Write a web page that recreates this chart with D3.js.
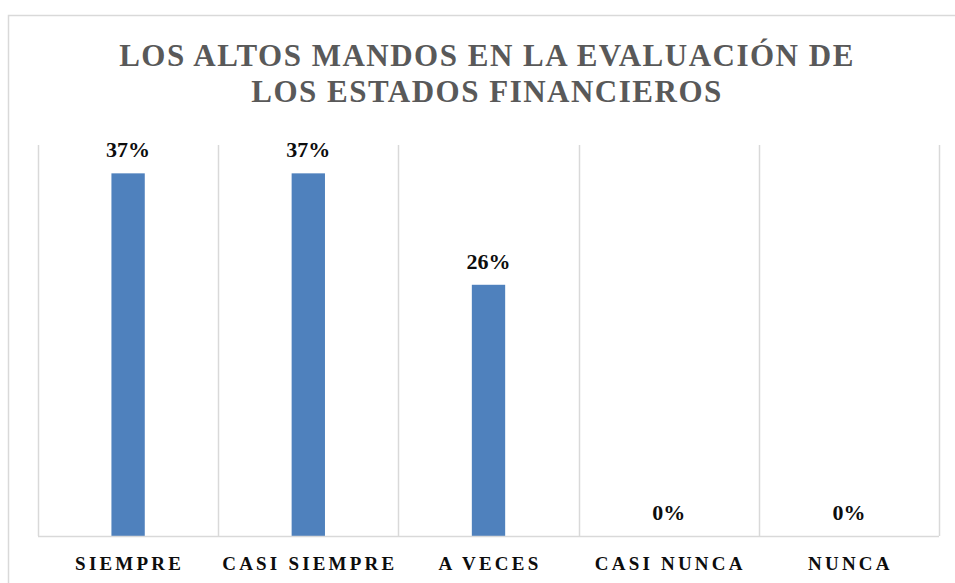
<!DOCTYPE html>
<html>
<head>
<meta charset="utf-8">
<script src="https://cdn.jsdelivr.net/npm/d3@7"></script>
<style>
  body { margin: 0; background: #ffffff; }
  svg text { font-family: "Liberation Serif", "DejaVu Serif", serif; font-weight: bold; }
</style>
</head>
<body>
<div id="my_dataviz"></div>
<script>

// data
var categories = ["SIEMPRE", "CASI SIEMPRE", "A VECES", "CASI NUNCA", "NUNCA"]
var values = [0.371, 0.371, 0.257, 0, 0]
var titleLines = ["LOS ALTOS MANDOS EN LA EVALUACIÓN DE", "LOS ESTADOS FINANCIEROS"]

var W = 955,
  H = 583

// plot area
var margin = {
    top: 145,
    right: 16,
    bottom: 47,
    left: 38
  },
  width = W - margin.left - margin.right,
  height = H - margin.top - margin.bottom;

var svg = d3.select("#my_dataviz")
  .append("svg")
  .attr("width", W)
  .attr("height", H)

// chart frame
svg.append("rect")
  .attr("x", 8.5)
  .attr("y", 15.5)
  .attr("width", W)
  .attr("height", H)
  .attr("fill", "none")
  .attr("stroke", "#d9d9d9")
  .attr("stroke-width", 1.5)

// title
svg.selectAll(".title")
  .data(titleLines)
  .enter()
  .append("text")
  .attr("class", "title")
  .attr("x", 487)
  .attr("y", function(d, i) {
    return 66 + i * 36
  })
  .attr("text-anchor", "middle")
  .style("font-size", "31px")
  .style("letter-spacing", "1.5px")
  .attr("fill", "#595959")
  .text(function(d) {
    return d
  })

var g = svg.append("g")
  .attr("transform", "translate(" + margin.left + "," + margin.top + ")");

//------------------------------------------------------------------------//
// scales
var x = d3.scaleBand()
  .domain(categories)
  .range([0, width])
  .paddingInner(0)
  .paddingOuter(0)

var y = d3.scaleLinear()
  .domain([0, 0.4])
  .range([height, 0])

// vertical gridlines on band edges
var edges = categories.map(function(d) {
  return x(d)
}).concat([width])

g.selectAll(".grid")
  .data(edges)
  .enter()
  .append("line")
  .attr("class", "grid")
  .attr("x1", function(d) {
    return Math.round(d) + 0.5
  })
  .attr("x2", function(d) {
    return Math.round(d) + 0.5
  })
  .attr("y1", 0)
  .attr("y2", height)
  .attr("stroke", "#d9d9d9")
  .attr("stroke-width", 1.5)

// bars
var barW = x.bandwidth() * 0.185
g.selectAll(".bar")
  .data(values)
  .enter()
  .append("rect")
  .attr("class", "bar")
  .attr("x", function(d, i) {
    return x(categories[i]) + x.bandwidth() / 2 - barW / 2
  })
  .attr("y", function(d) {
    return y(d)
  })
  .attr("width", barW)
  .attr("height", function(d) {
    return height - y(d)
  })
  .attr("fill", "#4f81bd")

// baseline
g.append("line")
  .attr("x1", 0)
  .attr("x2", width)
  .attr("y1", height + 0.5)
  .attr("y2", height + 0.5)
  .attr("stroke", "#d9d9d9")
  .attr("stroke-width", 1.5)

// value labels
g.selectAll(".vlabel")
  .data(values)
  .enter()
  .append("text")
  .attr("class", "vlabel")
  .attr("x", function(d, i) {
    return x(categories[i]) + x.bandwidth() / 2
  })
  .attr("y", function(d) {
    return y(d) - 16
  })
  .attr("text-anchor", "middle")
  .style("font-size", "22px")
  .attr("fill", "#0d0d0d")
  .text(function(d) {
    return d3.format(".0%")(d)
  })

// category labels
g.selectAll(".clabel")
  .data(categories)
  .enter()
  .append("text")
  .attr("class", "clabel")
  .attr("x", function(d) {
    return x(d) + x.bandwidth() / 2 + 1.5
  })
  .attr("y", height + 34)
  .attr("text-anchor", "middle")
  .style("font-size", "19px")
  .style("letter-spacing", "3.2px")
  .attr("fill", "#0d0d0d")
  .text(function(d) {
    return d
  })
//------------------------------------------------------------------------//

</script>
</body>
</html>
